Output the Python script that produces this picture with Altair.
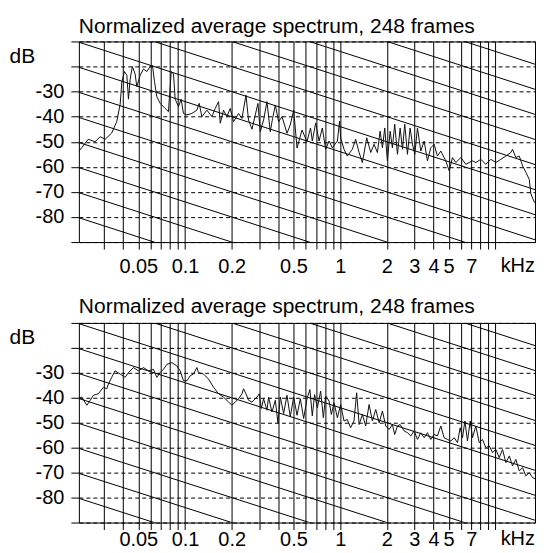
import json
import altair as alt
import pandas as pd

TITLE = "Normalized average spectrum, 248 frames"

# ---- spectrum 1 (top panel) : frequency in kHz, level in dB ----
top_freq = [0.02, 0.0238, 0.0263, 0.0284, 0.0306, 0.0337, 0.0363, 0.0382, 0.0392, 0.0407,
            0.0422, 0.0432, 0.0443, 0.0458, 0.0477, 0.0489, 0.0514, 0.054, 0.0568, 0.0596,
            0.0617, 0.0636, 0.0658, 0.0692, 0.0745, 0.0782, 0.0815, 0.0843, 0.0864, 0.0908,
            0.0944, 0.0977, 0.1028, 0.1107, 0.1192, 0.1234, 0.1284, 0.1384, 0.149, 0.1566,
            0.1645, 0.1687, 0.177, 0.186, 0.1955, 0.2055, 0.2213, 0.2327, 0.247, 0.2566,
            0.27, 0.2837, 0.295, 0.3055, 0.3209, 0.3374, 0.3542, 0.3666, 0.3819, 0.4009,
            0.4217, 0.4541, 0.4766, 0.5013, 0.5271, 0.5677, 0.611,
            0.644, 0.661, 0.695, 0.731, 0.767, 0.806, 0.848, 0.889, 0.959, 0.991,
            1.007, 1.058, 1.111, 1.197, 1.258, 1.324, 1.39, 1.482, 1.574, 1.653,
            1.737, 1.807, 1.871, 1.937, 2.014, 2.098, 2.169, 2.245, 2.339, 2.434,
            2.518, 2.606, 2.712, 2.822, 2.922, 3.024, 3.147, 3.306, 3.476, 3.649,
            3.834, 4.03, 4.23, 4.45, 4.79, 5.04, 5.29, 5.56, 5.99, 6.45,
            7.12, 7.48, 8.06, 8.68, 9.35, 10.07, 10.84, 11.68, 12.58, 12.9,
            13.55, 14.25, 14.97, 15.72, 16.53, 16.93, 17.81, 18.71, 19.65]
top_db = [-55, -49, -50, -48, -49, -46.5, -42, -35, -26, -22,
          -23.5, -33, -25, -20, -23, -28, -23.5, -21, -22, -20,
          -19.6, -26, -32, -34.7, -36.7, -38, -22, -23, -33, -36,
          -33, -38.7, -39.3, -38.7, -37.4, -34.7, -40, -37.4, -40, -36.7,
          -34, -42.6, -37.4, -40, -36.7, -42, -38.7, -40.7, -31.4, -41.3,
          -45, -39.3, -34.7, -46, -41.3, -34, -46, -40.7, -35.4, -42,
          -40, -46.6, -43.3, -37.4, -52.5, -45.3, -50,
          -44.5, -49.7, -42.5, -49.7, -44.5, -53, -49.7, -52.4, -49.7, -41.8,
          -48.4, -53, -55.7, -53, -49, -54.3, -58.3, -48.4, -54.3, -51,
          -54.3, -45.8, -52.4, -44.5, -57.6, -45.8, -52.4, -43, -55, -44.5,
          -53, -43, -55, -44.5, -51, -55, -44.5, -53.7, -49.7, -57.6,
          -52.4, -51, -55.7, -53.7, -57.6, -61.6, -56.3, -58.3, -56.3, -59,
          -57.6, -58.3, -57, -59, -57, -58.3, -57, -55.7, -54.3, -53,
          -56.3, -55.7, -59.6, -62.2, -65, -70.8, -74, -75.4, -77.4]

# ---- spectrum 2 (bottom panel) ----
bot_freq = [0.0205, 0.0216, 0.0233, 0.0245, 0.0257, 0.0276, 0.0298, 0.0313, 0.0321, 0.0337,
            0.0354, 0.0382, 0.0411, 0.0432, 0.0465, 0.0501, 0.054, 0.0581, 0.0626, 0.0658,
            0.0692, 0.0726, 0.0764, 0.0822, 0.0885, 0.0931, 0.0977, 0.1028, 0.1079, 0.1134,
            0.1192, 0.1221, 0.1316, 0.1417, 0.1527, 0.1645, 0.177, 0.1907, 0.2006, 0.2108,
            0.2213, 0.2327, 0.2383, 0.247, 0.2566, 0.27, 0.291, 0.3008, 0.3099, 0.3209,
            0.3374, 0.3456, 0.3631, 0.3819, 0.3972, 0.4111, 0.4319, 0.4541, 0.4766, 0.5013,
            0.5271, 0.5535, 0.5815, 0.611,
            0.638, 0.661, 0.684, 0.713, 0.748, 0.779, 0.806, 0.848, 0.877, 0.913,
            0.959, 1.007, 1.058, 1.111, 1.167, 1.227, 1.277, 1.324, 1.39, 1.459,
            1.535, 1.612, 1.694, 1.783, 1.871, 1.965, 2.066, 2.169, 2.245, 2.339,
            2.434, 2.583, 2.712, 2.85, 2.996, 3.147, 3.306, 3.476, 3.649, 3.834,
            4.03, 4.23, 4.45, 4.67, 4.91, 5.16, 5.43, 5.7, 5.93, 6.14,
            6.36, 6.61, 6.88, 7.12, 7.48, 7.87, 8.26, 8.68, 9.13, 9.59,
            10.07, 10.59, 11.12, 11.68, 12.29, 12.9, 13.55, 14.25, 14.97, 15.72,
            16.53, 17.37, 18.24, 19.18]
bot_db = [-40.4, -39.7, -43, -41, -39, -38.4, -35.8, -36.4, -34.5, -31.8,
          -29.2, -30.5, -31.8, -29.9, -27.9, -29.2, -27.9, -29.2, -28.6, -31.8,
          -29.9, -28.6, -26.6, -25.9, -27.2, -29.2, -33.2, -33.2, -31.2, -30.5,
          -27.9, -29.9, -30.5, -32.5, -35.8, -38.4, -39.7, -41.7, -43, -41.7,
          -40.4, -38.4, -36.4, -38.4, -41, -41.7, -39.7, -38.4, -44.3, -40.4,
          -45, -39.7, -45.7, -41, -50.3, -39.7, -46.3, -39, -47.6, -39.7,
          -47, -40.4, -48.3, -40.4,
          -36.7, -47.3, -38.7, -44, -37.3, -48, -39.3, -41.3, -46.7, -42,
          -48, -42.7, -49.3, -48.7, -52, -49.3, -38, -50.7, -46.7, -51.3,
          -42.7, -49.3, -44.7, -50, -45.3, -51.3, -52.7, -50.7, -54.7, -51.3,
          -50.7, -53.3, -54, -55.3, -53.3, -56.7, -54, -56, -54, -56.7,
          -54.7, -55.3, -51.3, -56, -56.7, -57.3, -56, -58, -52, -56,
          -49.3, -57.3, -49.3, -56, -51.3, -58, -56.7, -60, -59.3, -62,
          -60.7, -64, -60.7, -66, -63.3, -67.3, -64.7, -69.3, -68, -71.3,
          -70, -72, -72.7, -74.7]

# ---- axes / guides ----
freq_domain = [0.0207, 18.0]
db_domain = [-90, -10]
grid_freqs = [0.03, 0.04, 0.05, 0.06, 0.07, 0.08, 0.09,
              0.1, 0.2, 0.3, 0.4, 0.5, 0.6, 0.7, 0.8, 0.9,
              1, 2, 3, 4, 5, 6, 7, 8, 9, 10]
label_freqs = [0.05, 0.1, 0.2, 0.5, 1, 2, 3, 4, 5, 7]
db_ticks = [-10, -20, -30, -40, -50, -60, -70, -80, -90]
db_label_range = [-80, -30]
unit_text = ["kHz"]
# reference lines of -20 dB/decade, level (dB) reached at 20 kHz
slope_levels = [-10, -20, -30, -40, -50, -60, -70, -80, -90, -100, -110, -120, -130, -140, -150]
slope_per_decade = -20
slope_ends = [0.02, 20]

FONT = "Liberation Sans"
W = 457

xscale = alt.Scale(type="log", domain=freq_domain, nice=False)
yscale = alt.Scale(domain=db_domain, nice=False, zero=False)


def x_axis(pad):
    return alt.Axis(
        values=grid_freqs, grid=True, gridColor="black", gridOpacity=1, gridWidth=1,
        domain=False, ticks=True, tickColor="black", tickSize=7, tickWidth=1,
        labelExpr="indexof(%s, datum.value) >= 0 ? toString(datum.value) : ''" % json.dumps(label_freqs),
        labelOverlap=False, labelFlush=False, labelBound=False, labelPadding=pad,
        labelFont=FONT, labelFontSize=20, labelColor="black",
        title=None,
    )


y_axis = alt.Axis(
    values=db_ticks, grid=True, gridColor="black", gridOpacity=1, gridWidth=1,
    gridDash=[4, 3], domain=False, ticks=True, tickColor="black", tickSize=8,
    labelExpr="datum.value >= %d && datum.value <= %d ? toString(datum.value) : ''" % tuple(db_label_range),
    labelOverlap=False, labelPadding=7,
    labelFont=FONT, labelFontSize=20, labelColor="black",
    title="dB", titleAngle=0, titleX=-70, titleY=15, titleAlign="left",
    titleBaseline="middle", titleFontWeight="normal", titleFont=FONT, titleFontSize=21,
    titleColor="black",
)

slope_df = pd.DataFrame([{"lvl": l, "f": f} for l in slope_levels for f in slope_ends])
unit_df = pd.DataFrame({"t": unit_text})


def panel(freq, db, h, pad, title_offset):
    spec = pd.DataFrame({"f": freq, "db": db})
    base_x = alt.X("f:Q", scale=xscale, axis=x_axis(pad))
    base_y = alt.Y("db:Q", scale=yscale, axis=y_axis)
    slopes = alt.Chart(slope_df).transform_calculate(
        db="datum.lvl + %f * log(datum.f / 20) / LN10" % slope_per_decade
    ).mark_line(color="black", strokeWidth=1, clip=True).encode(
        x=base_x, y=base_y, detail="lvl:N"
    )
    line = alt.Chart(spec).mark_line(color="#111111", strokeWidth=1, clip=True).encode(
        x=base_x, y=base_y
    )
    unit = alt.Chart(unit_df).mark_text(
        font=FONT, fontSize=20, baseline="top", align="right", color="black"
    ).encode(x=alt.value(W), y=alt.value(h + 7 + pad), text="t:N")
    return alt.layer(slopes, line, unit).properties(
        width=W, height=h,
        title=alt.TitleParams(TITLE, anchor="start", frame="group", font=FONT,
                              fontSize=21, fontWeight="normal", color="black",
                              offset=title_offset),
    )


chart = alt.vconcat(
    panel(top_freq, top_db, 201, 7, -5.5),
    panel(bot_freq, bot_db, 200, 0, -4.5),
    spacing=19,
).properties(
    padding={"left": 0, "top": 7, "right": 0, "bottom": 0},
    background="white",
).configure_view(stroke="black", strokeWidth=1)

chart.save("out.html", embed_options={"renderer": "svg", "actions": False})
